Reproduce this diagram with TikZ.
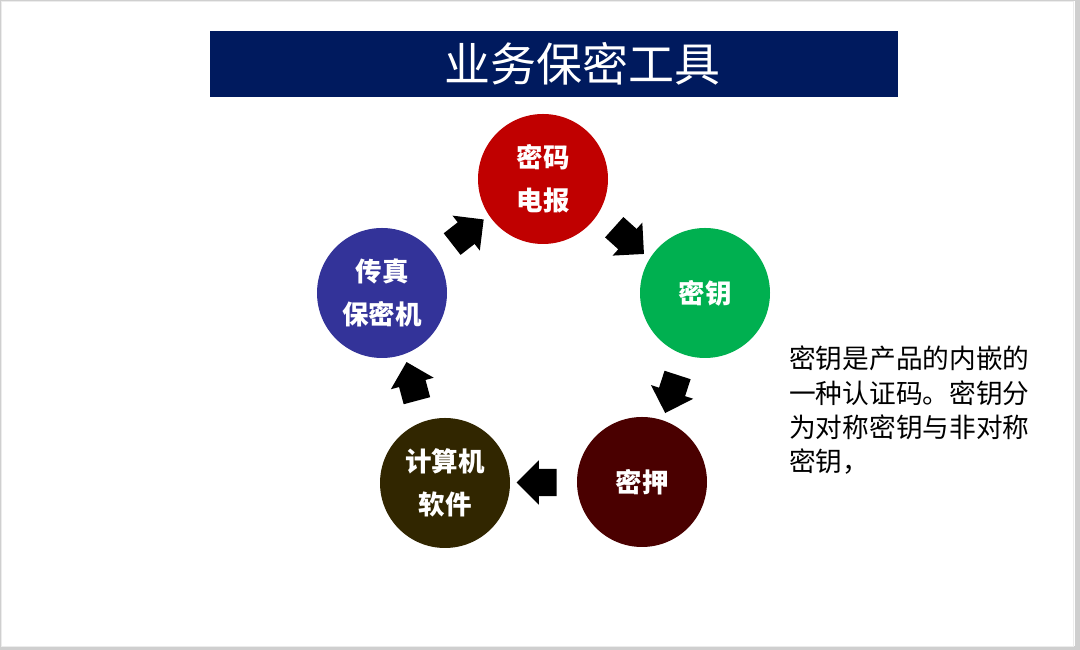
\documentclass[tikz,border=0pt]{standalone}
\usepackage{fontspec}
\newfontfamily\cjk{Noto Sans CJK SC}
\usetikzlibrary{shapes.arrows,calc}
\definecolor{titlebg}{HTML}{001A5E}
\definecolor{cred}{HTML}{C00000}
\definecolor{cgreen}{HTML}{00B050}
\definecolor{cdark}{HTML}{4A0000}
\definecolor{cbrown}{HTML}{312600}
\definecolor{cblue}{HTML}{333399}
\definecolor{framegray}{HTML}{CFCFCF}
\tikzset{
  stage/.style={circle,minimum size=130pt,inner sep=0pt,text=white,align=center,
    font=\cjk\bfseries\fontsize{26.5}{43}\selectfont},
  flow/.style={single arrow,fill=black,draw=none,minimum height=40pt,
    single arrow head extend=8.5pt,inner xsep=0pt,inner ysep=13.5pt}
}
\begin{document}
\begin{tikzpicture}[x=1pt,y=1pt]
\fill[framegray] (0,0) rectangle (1080,650);
\fill[white] (1.5,4) rectangle (1075,648.5);
\draw[gray!15,line width=0.8pt] (1.5,4) rectangle (1073,648.5);
\useasboundingbox (0,0) rectangle (1080,650);

\node[fill=titlebg,minimum width=688pt,minimum height=66pt,inner sep=0pt] (title) at (554,586) {};
\node[text=white,font=\cjk\fontsize{46}{52}\selectfont] (titletext) at (582,586) {业务保密工具};

\node[stage,fill=cred]   (red)   at (543,471) {密码\\电报};
\node[stage,fill=cgreen] (green) at (705,357) {密钥};
\node[stage,fill=cdark]  (dark)  at (642,168) {密押};
\node[stage,fill=cbrown] (brown) at (445,167) {计算机\\软件};
\node[stage,fill=cblue]  (blue)  at (382,357) {传真\\保密机};

\node[flow,rotate=-42]  (a1) at ($(red)!0.5!(green)$) {};
\node[flow,rotate=-108] (a2) at ($(green)!0.5!(dark)$) {};
\node[flow,rotate=180]  (a3) at ($(dark)!0.5!(brown)$) {};
\node[flow,rotate=105]  (a4) at ($(brown)!0.5!(blue)$) {};
\node[flow,rotate=38]   (a5) at ($(blue)!0.5!(red)$) {};

\node[anchor=north west,align=left,inner sep=0pt,
  font=\cjk\fontsize{26.7}{34.3}\selectfont] (note) at (789,304)
  {密钥是产品的内嵌的\\一种认证码。密钥分\\为对称密钥与非对称\\密钥，};
\end{tikzpicture}
\end{document}
